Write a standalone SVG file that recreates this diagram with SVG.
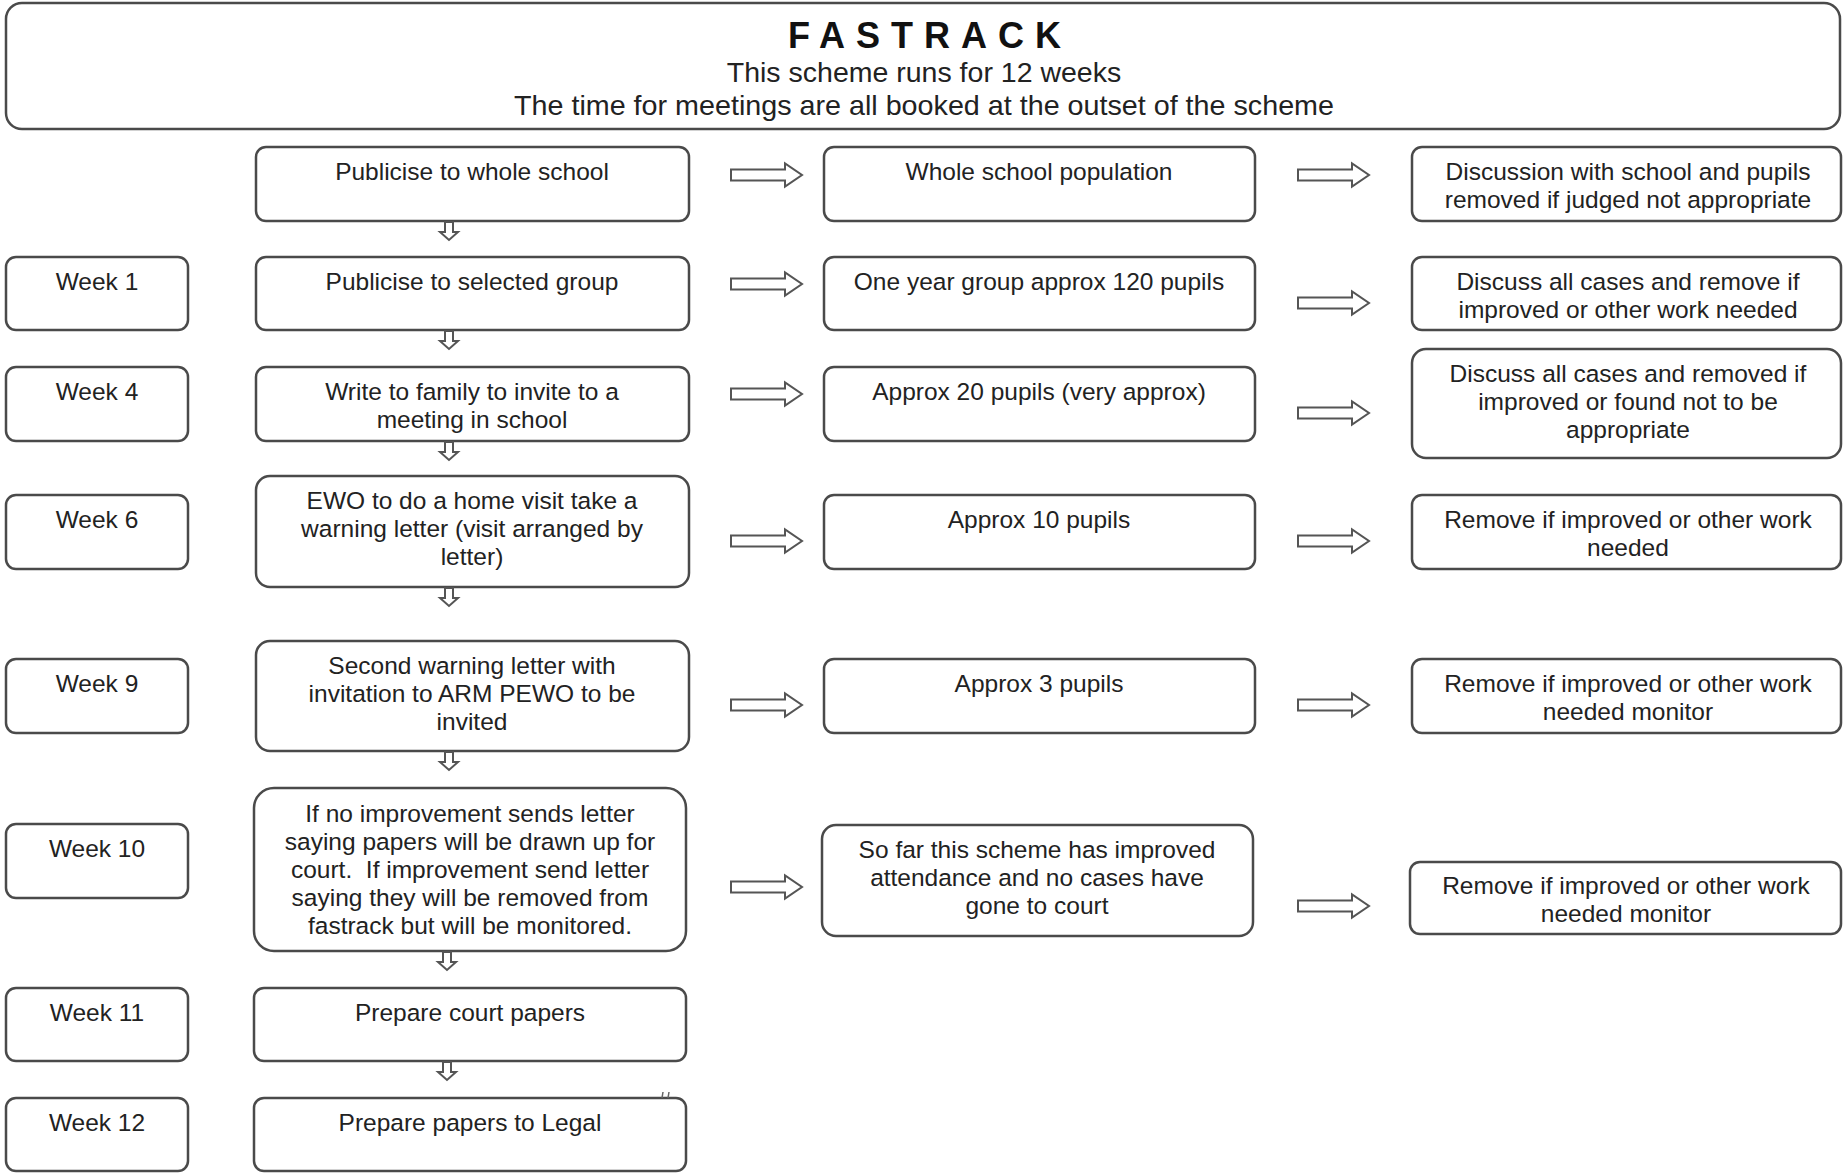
<svg xmlns="http://www.w3.org/2000/svg" xmlns:xlink="http://www.w3.org/1999/xlink" width="1843" height="1173" viewBox="0 0 1843 1173">
<style>
.box{fill:#ffffff;stroke:#4a4a4a;stroke-width:2.5}
.t{font-family:"Liberation Sans",Arial,sans-serif;font-size:24.5px;fill:#222222;text-anchor:middle}
.h{font-family:"Liberation Sans",Arial,sans-serif;font-size:28.5px;fill:#222222;text-anchor:middle}
.title{font-family:"Liberation Sans",Arial,sans-serif;font-size:36px;font-weight:bold;fill:#111111;text-anchor:middle;letter-spacing:11px}
.arr{fill:#ffffff;stroke:#555555;stroke-width:2}
</style>
<defs>
<path id="ra" d="M0,-5.5 H54 V-11.5 L71,0 L54,11.5 V5.5 H0 Z"/>
<path id="da" d="M-4,0 V10 H-9 L0,18 L9,10 H4 V0 Z"/>
</defs>
<rect x="0" y="0" width="1843" height="1173" fill="#ffffff"/>

<g id="header">
<rect class="box" x="6" y="3" width="1834" height="126" rx="16"/>
<text class="title" x="930" y="48">FASTRACK</text>
<text class="h" x="924" y="82">This scheme runs for 12 weeks</text>
<text class="h" x="924" y="115" textLength="820" lengthAdjust="spacingAndGlyphs">The time for meetings are all booked at the outset of the scheme</text>
</g>

<g id="weeks">
<g id="week1"><rect class="box" x="6" y="257" width="182" height="73" rx="10"/><text class="t" x="97" y="290">Week 1</text></g>
<g id="week4"><rect class="box" x="6" y="367" width="182" height="74" rx="10"/><text class="t" x="97" y="400">Week 4</text></g>
<g id="week6"><rect class="box" x="6" y="495" width="182" height="74" rx="10"/><text class="t" x="97" y="528">Week 6</text></g>
<g id="week9"><rect class="box" x="6" y="659" width="182" height="74" rx="10"/><text class="t" x="97" y="692">Week 9</text></g>
<g id="week10"><rect class="box" x="6" y="824" width="182" height="74" rx="10"/><text class="t" x="97" y="857">Week 10</text></g>
<g id="week11"><rect class="box" x="6" y="988" width="182" height="73" rx="10"/><text class="t" x="97" y="1021">Week 11</text></g>
<g id="week12"><rect class="box" x="6" y="1098" width="182" height="73" rx="10"/><text class="t" x="97" y="1131">Week 12</text></g>
</g>

<g id="actions">
<g id="a0"><rect class="box" x="256" y="147" width="433" height="74" rx="10"/><text class="t" x="472" y="180">Publicise to whole school</text></g>
<g id="a1"><rect class="box" x="256" y="257" width="433" height="73" rx="10"/><text class="t" x="472" y="290">Publicise to selected group</text></g>
<g id="a2"><rect class="box" x="256" y="367" width="433" height="74" rx="10"/><text class="t" x="472" y="400">Write to family to invite to a</text><text class="t" x="472" y="428">meeting in school</text></g>
<g id="a3"><rect class="box" x="256" y="476" width="433" height="111" rx="14"/><text class="t" x="472" y="509">EWO to do a home visit take a</text><text class="t" x="472" y="537">warning letter (visit arranged by</text><text class="t" x="472" y="565">letter)</text></g>
<g id="a4"><rect class="box" x="256" y="641" width="433" height="110" rx="14"/><text class="t" x="472" y="674">Second warning letter with</text><text class="t" x="472" y="702">invitation to ARM PEWO to be</text><text class="t" x="472" y="730">invited</text></g>
<g id="a5"><rect class="box" x="254" y="788" width="432" height="163" rx="20"/><text class="t" x="470" y="822">If no improvement sends letter</text><text class="t" x="470" y="850">saying papers will be drawn up for</text><text class="t" x="470" y="878" xml:space="preserve">court.  If improvement send letter</text><text class="t" x="470" y="906">saying they will be removed from</text><text class="t" x="470" y="934">fastrack but will be monitored.</text></g>
<g id="a6"><rect class="box" x="254" y="988" width="432" height="73" rx="10"/><text class="t" x="470" y="1021">Prepare court papers</text></g>
<g id="a7"><rect class="box" x="254" y="1098" width="432" height="73" rx="10"/><text class="t" x="470" y="1131">Prepare papers to Legal</text></g>
</g>

<g id="populations">
<g id="p0"><rect class="box" x="824" y="147" width="431" height="74" rx="10"/><text class="t" x="1039" y="180">Whole school population</text></g>
<g id="p1"><rect class="box" x="824" y="257" width="431" height="73" rx="10"/><text class="t" x="1039" y="290">One year group approx 120 pupils</text></g>
<g id="p2"><rect class="box" x="824" y="367" width="431" height="74" rx="10"/><text class="t" x="1039" y="400">Approx 20 pupils (very approx)</text></g>
<g id="p3"><rect class="box" x="824" y="495" width="431" height="74" rx="10"/><text class="t" x="1039" y="528">Approx 10 pupils</text></g>
<g id="p4"><rect class="box" x="824" y="659" width="431" height="74" rx="10"/><text class="t" x="1039" y="692">Approx 3 pupils</text></g>
<g id="p5"><rect class="box" x="822" y="825" width="431" height="111" rx="14"/><text class="t" x="1037" y="858">So far this scheme has improved</text><text class="t" x="1037" y="886">attendance and no cases have</text><text class="t" x="1037" y="914">gone to court</text></g>
</g>

<g id="outcomes">
<g id="o0"><rect class="box" x="1412" y="147" width="429" height="74" rx="10"/><text class="t" x="1628" y="180">Discussion with school and pupils</text><text class="t" x="1628" y="208">removed if judged not appropriate</text></g>
<g id="o1"><rect class="box" x="1412" y="257" width="429" height="73" rx="10"/><text class="t" x="1628" y="290">Discuss all cases and remove if</text><text class="t" x="1628" y="318">improved or other work needed</text></g>
<g id="o2"><rect class="box" x="1412" y="349" width="429" height="109" rx="14"/><text class="t" x="1628" y="382">Discuss all cases and removed if</text><text class="t" x="1628" y="410">improved or found not to be</text><text class="t" x="1628" y="438">appropriate</text></g>
<g id="o3"><rect class="box" x="1412" y="495" width="429" height="74" rx="10"/><text class="t" x="1628" y="528">Remove if improved or other work</text><text class="t" x="1628" y="556">needed</text></g>
<g id="o4"><rect class="box" x="1412" y="659" width="429" height="74" rx="10"/><text class="t" x="1628" y="692">Remove if improved or other work</text><text class="t" x="1628" y="720">needed monitor</text></g>
<g id="o5"><rect class="box" x="1410" y="862" width="431" height="72" rx="10"/><text class="t" x="1626" y="894">Remove if improved or other work</text><text class="t" x="1626" y="922">needed monitor</text></g>
</g>

<g id="connectors">
<use xlink:href="#ra" class="arr" x="731" y="175"/>
<use xlink:href="#ra" class="arr" x="1298" y="175"/>
<use xlink:href="#ra" class="arr" x="731" y="284"/>
<use xlink:href="#ra" class="arr" x="1298" y="303"/>
<use xlink:href="#ra" class="arr" x="731" y="394"/>
<use xlink:href="#ra" class="arr" x="1298" y="413"/>
<use xlink:href="#ra" class="arr" x="731" y="541"/>
<use xlink:href="#ra" class="arr" x="1298" y="541"/>
<use xlink:href="#ra" class="arr" x="731" y="705"/>
<use xlink:href="#ra" class="arr" x="1298" y="705"/>
<use xlink:href="#ra" class="arr" x="731" y="887"/>
<use xlink:href="#ra" class="arr" x="1298" y="906"/>
<use xlink:href="#da" class="arr" x="449" y="222"/>
<use xlink:href="#da" class="arr" x="449" y="331"/>
<use xlink:href="#da" class="arr" x="449" y="442"/>
<use xlink:href="#da" class="arr" x="449" y="588"/>
<use xlink:href="#da" class="arr" x="449" y="752"/>
<use xlink:href="#da" class="arr" x="447" y="952"/>
<use xlink:href="#da" class="arr" x="447" y="1062"/>
</g>
<g id="mark" stroke="#666666" stroke-width="1.5">
<line x1="663" y1="1092" x2="662" y2="1098"/>
<line x1="669" y1="1092" x2="668" y2="1098"/>
</g>
</svg>
